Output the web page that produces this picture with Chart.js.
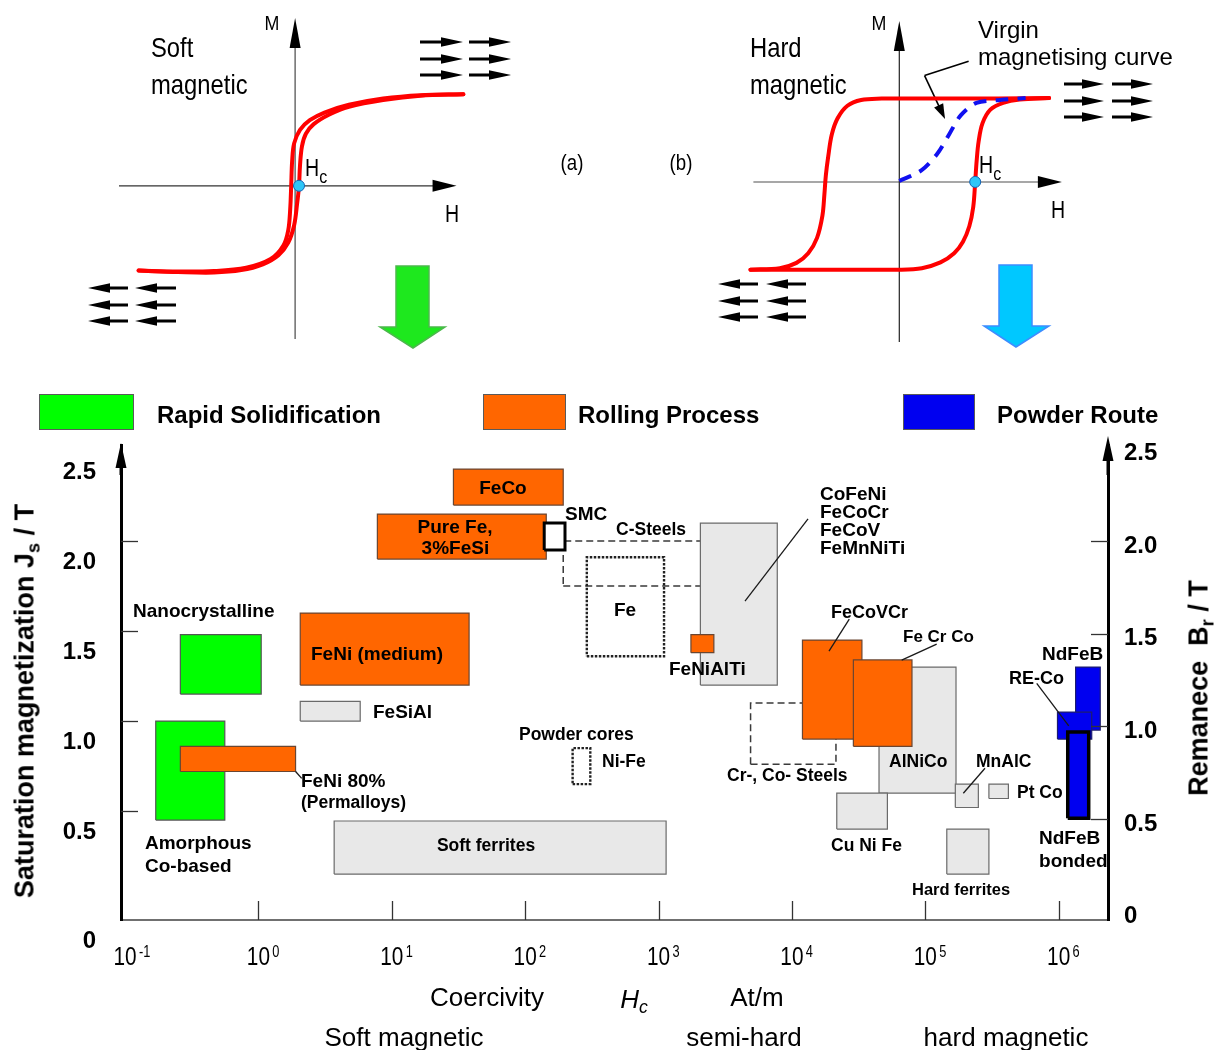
<!DOCTYPE html>
<html lang="en">
<head>
<meta charset="utf-8">
<title>Soft and hard magnetic materials</title>
<script src="https://cdn.jsdelivr.net/npm/chart.js@4/dist/chart.umd.min.js"></script>
<style>
  html, body { margin: 0; padding: 0; background: #fff; }
  #page { position: relative; width: 1227px; height: 1050px; overflow: hidden; background: #fff;
          font-family: "Liberation Sans", Arial, Helvetica, sans-serif; color: #000; }
  canvas, svg { position: absolute; }
  .t { position: absolute; white-space: nowrap; line-height: 1; }
  .l { transform: translateY(-50%); }
  .c { transform: translate(-50%, -50%); }
  /* condensed lettering for the loop sketches */
  .ln { transform: translateY(-50%) scaleX(0.85); transform-origin: 0 50%; }
  .cn { transform: translate(-50%, -50%) scaleX(0.85); }
  .b { font-weight: bold; }
  sub { font-size: 0.68em; vertical-align: -0.3em; line-height: 0; }
  sub.hc { font-size: 0.82em; vertical-align: -0.38em; }
  .key { position: absolute; top: 394px; height: 36px; border: 1px solid #5a5a5a; box-sizing: border-box; }
  .vt { position: absolute; white-space: nowrap; line-height: 1; font-weight: bold; font-size: 27px;
        transform: translate(-50%, -50%) rotate(-90deg); }
</style>
</head>
<body>
<div id="page">
  <canvas id="softLoop" width="600" height="360" style="left:0;top:0"></canvas>
  <canvas id="hardLoop" width="627" height="360" style="left:600px;top:0"></canvas>
  <canvas id="materials" width="1227" height="670" style="left:0;top:380px"></canvas>
  <svg id="decor" width="1227" height="380" style="left:0;top:0"></svg>

  <!-- soft magnetic loop annotations -->
  <div class="t cn" style="left:272px;top:22px;font-size:21px">M</div>
  <div class="t cn" style="left:452px;top:214px;font-size:23px">H</div>
  <div class="t ln" style="left:305px;top:168px;font-size:23px">H<sub class="hc">c</sub></div>
  <div class="t ln" style="left:151px;top:48px;font-size:28px">Soft</div>
  <div class="t ln" style="left:151px;top:85px;font-size:28px">magnetic</div>
  <div class="t cn" style="left:572px;top:163px;font-size:22px">(a)</div>
  <div class="t cn" style="left:681px;top:163px;font-size:22px">(b)</div>

  <!-- hard magnetic loop annotations -->
  <div class="t cn" style="left:879px;top:22px;font-size:21px">M</div>
  <div class="t cn" style="left:1058px;top:210px;font-size:23px">H</div>
  <div class="t ln" style="left:979px;top:165px;font-size:23px">H<sub class="hc">c</sub></div>
  <div class="t ln" style="left:750px;top:48px;font-size:28px">Hard</div>
  <div class="t ln" style="left:750px;top:85px;font-size:28px">magnetic</div>
  <div class="t l" style="left:978px;top:30px;font-size:24px">Virgin</div>
  <div class="t l" style="left:978px;top:57px;font-size:24px">magnetising curve</div>

  <!-- processing route key -->
  <div class="key" style="left:39px;width:95px;background:#00ff00"></div>
  <div class="t l b" style="left:157px;top:415px;font-size:24px">Rapid Solidification</div>
  <div class="key" style="left:483px;width:83px;background:#ff6600"></div>
  <div class="t l b" style="left:578px;top:415px;font-size:24px">Rolling Process</div>
  <div class="key" style="left:903px;width:72px;background:#0000f0"></div>
  <div class="t l b" style="left:997px;top:415px;font-size:24px">Powder Route</div>

  <!-- axis titles -->
  <div class="vt" style="left:25px;top:701px">Saturation magnetization J<sub>s</sub> / T</div>
  <div class="vt" style="left:1199px;top:688px">Remanece&nbsp; B<sub>r</sub> / T</div>

  <div class="t c" style="left:487px;top:997px;font-size:26px">Coercivity</div>
  <div class="t c" style="left:634px;top:999px;font-size:26px"><i>H<sub>c</sub></i></div>
  <div class="t c" style="left:757px;top:997px;font-size:26px">At/m</div>
  <div class="t c" style="left:404px;top:1037px;font-size:26px">Soft magnetic</div>
  <div class="t c" style="left:744px;top:1037px;font-size:26px">semi-hard</div>
  <div class="t c" style="left:1006px;top:1037px;font-size:26px">hard magnetic</div>
</div>

<script>
// ---------------- Material property ranges ----------------
// Coercivity Hc in A/m, saturation magnetization / remanence in T
const materials = ['Soft ferrites', 'FeSiAl', 'Amorphous Co-based', 'FeNi 80%', 'Nanocrystalline',
  'FeNi (medium)', 'Pure Fe, 3%FeSi', 'FeCo', 'C-Steels', 'Fe', 'SMC', 'CoFeNi group', 'FeNiAlTi',
  'Powder cores Ni-Fe', 'Cr-, Co- Steels', 'FeCoVCr', 'AlNiCo', 'Fe Cr Co', 'Cu Ni Fe', 'MnAlC',
  'Pt Co', 'Hard ferrites', 'NdFeB', 'RE-Co', 'NdFeB bonded'];
const hcLow  = [3.7, 2.06, 0.17, 0.26, 0.26, 2.06, 7.8, 29, 193, 290, 139, 2060, 1750,
  227, 4900, 12000, 45000, 28900, 21700, 168000, 300000, 145000, 1340000, 980000, 1170000];
const hcHigh = [1140, 5.8, 0.56, 1.9, 1.05, 38, 144, 193, 4280, 1100, 199, 7770, 2600,
  308, 21400, 33500, 170000, 79500, 52000, 250000, 420000, 300000, 2050000, 1770000, 1680000];
const jsLow  = [0.15, 1.0, 0.45, 0.72, 1.15, 1.2, 1.9, 2.2, 1.75, 1.36, 1.95, 1.2, 1.38,
  0.65, 0.76, 0.9, 0.6, 0.86, 0.4, 0.52, 0.57, 0.15, 0.95, 0.9, 0.46];
const jsHigh = [0.445, 1.11, 1.0, 0.86, 1.48, 1.6, 2.15, 2.4, 2.0, 1.91, 2.1, 2.1, 1.48,
  0.85, 1.1, 1.45, 1.3, 1.34, 0.6, 0.65, 0.65, 0.4, 1.3, 1.05, 0.94];
const route  = ['other', 'other', 'rapid', 'rolling', 'rapid', 'rolling', 'rolling', 'rolling',
  'outline', 'dotted', 'composite', 'other', 'rolling', 'dotted', 'outline', 'rolling', 'other',
  'rolling', 'other', 'other', 'other', 'other', 'powder', 'powder', 'bonded'];

// Axis ticks
const decadeExponents = [-1, 0, 1, 2, 3, 4, 5, 6];
const jsTickValues = [0.5, 1.0, 1.5, 2.0, 2.5];
const brTickValues = [0, 0.5, 1.0, 1.5, 2.0, 2.5];

// ---------------- Hysteresis loops (H, M in drawing units) ----------------
const softRising = [[-160,-88],[-120,-89.5],[-83,-90],[-55,-87.5],[-33,-81.5],[-17,-72],[-7,-59],[-1,-41],
  [2,-19],[4,0],[5,21],[7,41],[11,54],[19,64],[35,74],[55,82],[90,89],[128,93.5],[172,95]];
const softFalling = [[172,95],[128,94],[90,90.5],[55,84],[30,76],[15,68],[5,58],[-1,44],[-3,26],[-4,0],
  [-5,-24],[-7,-46],[-12,-62],[-25,-76],[-50,-85],[-83,-88.5],[-120,-89],[-160,-88]];
const softCoercive = [[4, 0]];

const hardFalling = [[153,87],[101,86.5],[51,86.5],[2,86.5],[-18,86.5],[-39,85],[-53,79],[-63,66],[-69,49],
  [-72.5,27],[-75,7],[-76.5,-13],[-78.5,-35],[-84,-58],[-93,-74],[-105,-84],[-122,-89.5],[-152,-91]];
const hardRising = [[-152,-91],[-99,-91],[2,-91],[23,-89.5],[42,-83.5],[56,-74],[65,-62],[71.5,-46],
  [75.5,-26],[77.5,0],[79,22],[81,42],[85,61],[93,75],[106,82],[123,85.5],[153,87]];
const virginCurve = [[0,1],[22.5,12],[38.6,29],[50.7,49],[62.7,69],[78.8,82],[103,85],[129,87]];
const hardCoercive = [[77.5, 0]];

// ---------------- helpers ----------------
const SANS = '"Liberation Sans", Arial, Helvetica, sans-serif';
const pts = arr => arr.map(([x, y]) => ({ x, y }));

function arrow(ctx, from, to, len, half, lineColor, headColor, lw) {
  const dx = to[0] - from[0], dy = to[1] - from[1];
  const d = Math.hypot(dx, dy), ux = dx / d, uy = dy / d;
  const bx = to[0] - ux * len, by = to[1] - uy * len;
  ctx.save();
  ctx.strokeStyle = lineColor; ctx.lineWidth = lw;
  ctx.beginPath(); ctx.moveTo(from[0], from[1]); ctx.lineTo(bx + ux, by + uy); ctx.stroke();
  ctx.fillStyle = headColor;
  ctx.beginPath();
  ctx.moveTo(to[0], to[1]);
  ctx.lineTo(bx - uy * half, by + ux * half);
  ctx.lineTo(bx + uy * half, by - ux * half);
  ctx.closePath(); ctx.fill();
  ctx.restore();
}

function loopChart(id, range, datasets, decor) {
  return new Chart(document.getElementById(id), {
    type: 'line',
    data: { datasets },
    options: {
      responsive: false, animation: false, devicePixelRatio: 1,
      layout: { padding: 0 },
      plugins: { legend: { display: false }, tooltip: { enabled: false } },
      scales: {
        x: { type: 'linear', min: range[0], max: range[1], display: false },
        y: { type: 'linear', min: range[2], max: range[3], display: false }
      }
    },
    plugins: [{ id: 'loopAxes', beforeDatasetsDraw: decor }]
  });
}

const loopLine = (data, color, extra) => Object.assign({
  data: pts(data), borderColor: color, borderWidth: 4, pointRadius: 0, tension: 0.35,
  fill: false, borderCapStyle: 'round', borderJoinStyle: 'round'
}, extra || {});
const coerciveDot = data => ({
  data: pts(data), showLine: false, pointRadius: 5.5, pointBackgroundColor: '#2ec6f7',
  pointBorderColor: '#1464b4', pointBorderWidth: 1
});

// ---------------- soft magnetic loop ----------------
loopChart('softLoop', [-295, 305, -174, 186], [
  coerciveDot(softCoercive),
  loopLine(softRising, '#ff0000'),
  loopLine(softFalling, '#ff0000')
], chart => {
  const { ctx, scales: { x, y } } = chart;
  const P = (h, m) => [x.getPixelForValue(h), y.getPixelForValue(m)];
  arrow(ctx, P(-180, 0), P(165, 0), 24, 6, '#333', '#000', 1.2);
  arrow(ctx, P(0, -159), P(0, 174), 30, 5.5, '#555', '#000', 1.3);
});

// ---------------- hard magnetic loop ----------------
loopChart('hardLoop', [-299, 328, -178, 182], [
  coerciveDot(hardCoercive),
  loopLine(virginCurve, '#1010f0', { borderDash: [13, 9], borderCapStyle: 'butt', tension: 0.3 }),
  loopLine(hardFalling, '#ff0000'),
  loopLine(hardRising, '#ff0000')
], chart => {
  const { ctx, scales: { x, y } } = chart;
  const P = (h, m) => [x.getPixelForValue(h), y.getPixelForValue(m)];
  arrow(ctx, P(-149, 0), P(166, 0), 24, 6, '#8a8a8a', '#000', 1.5);
  arrow(ctx, P(0, -166), P(0, 167), 30, 5.5, '#222', '#000', 1.2);
  // pointer from the "Virgin magnetising curve" caption
  const a = P(70.8, 125.3), b = P(25.8, 110.3), c = P(46.7, 65.3);
  ctx.save(); ctx.strokeStyle = '#000'; ctx.lineWidth = 1.6;
  ctx.beginPath(); ctx.moveTo(a[0], a[1]); ctx.lineTo(b[0], b[1]); ctx.stroke(); ctx.restore();
  arrow(ctx, b, c, 15, 5, '#000', '#000', 1.6);
});

// ---------------- domain arrows and big route arrows ----------------
(function drawDecor() {
  const svg = document.getElementById('decor');
  const NS = 'http://www.w3.org/2000/svg';
  const add = (tag, attrs) => {
    const el = document.createElementNS(NS, tag);
    for (const k in attrs) el.setAttribute(k, attrs[k]);
    svg.appendChild(el);
  };
  const groups = [
    { dir: 1, ys: [42, 59, 75], spans: [[420, 463], [469, 511]] },
    { dir: -1, ys: [288, 305, 321], spans: [[88, 128], [135, 176]] },
    { dir: 1, ys: [84, 101, 117], spans: [[1064, 1104], [1112, 1153]] },
    { dir: -1, ys: [284, 301, 317], spans: [[718, 758], [766, 806]] }
  ];
  for (const g of groups) for (const yy of g.ys) for (const [x1, x2] of g.spans) {
    const head = 22;
    if (g.dir > 0) {
      add('rect', { x: x1, y: yy - 1.5, width: x2 - x1 - head + 1, height: 3, fill: '#000' });
      add('polygon', { points: `${x2 - head},${yy - 4.8} ${x2},${yy} ${x2 - head},${yy + 4.8}`, fill: '#000' });
    } else {
      add('rect', { x: x1 + head - 1, y: yy - 1.5, width: x2 - x1 - head + 1, height: 3, fill: '#000' });
      add('polygon', { points: `${x1 + head},${yy - 4.8} ${x1},${yy} ${x1 + head},${yy + 4.8}`, fill: '#000' });
    }
  }
  add('polygon', { points: '396,266 429,266 429,327 445,327 413,348 380,327 396,327',
    fill: '#1ee81e', stroke: '#4cb84c', 'stroke-width': 1.5 });
  add('polygon', { points: '999,265 1032,265 1032,326 1049,326 1016,347 984,326 999,326',
    fill: '#00c8ff', stroke: '#3d8cff', 'stroke-width': 1.5 });
})();

// ---------------- material map ----------------
const routeStyle = {
  rapid:     { backgroundColor: '#00ff00', borderColor: '#555555', borderWidth: 1.2, fill: 'shape' },
  rolling:   { backgroundColor: '#ff6600', borderColor: '#6a4632', borderWidth: 1.2, fill: 'shape' },
  powder:    { backgroundColor: '#0000f0', borderColor: '#1c1c70', borderWidth: 1.2, fill: 'shape' },
  bonded:    { backgroundColor: '#0000f0', borderColor: '#000000', borderWidth: 3.5, fill: 'shape' },
  composite: { backgroundColor: '#ffffff', borderColor: '#000000', borderWidth: 3, fill: 'shape' },
  other:     { backgroundColor: '#e8e8e8', borderColor: '#6a6a6a', borderWidth: 1.2, fill: 'shape' },
  outline:   { backgroundColor: 'rgba(0,0,0,0)', borderColor: '#3a3a3a', borderWidth: 1.5, borderDash: [7, 4], fill: false },
  dotted:    { backgroundColor: 'rgba(0,0,0,0)', borderColor: '#222222', borderWidth: 2.4, borderDash: [2.5, 1.5], fill: false }
};

const boxDatasets = materials.map((name, i) => Object.assign({
  label: name,
  data: [
    { x: hcLow[i], y: jsLow[i] }, { x: hcHigh[i], y: jsLow[i] },
    { x: hcHigh[i], y: jsHigh[i] }, { x: hcLow[i], y: jsHigh[i] },
    { x: hcLow[i], y: jsLow[i] }
  ],
  pointRadius: 0, tension: 0, borderJoinStyle: 'miter', borderCapStyle: 'butt',
  order: 100 - i
}, routeStyle[route[i]]));

// pointer lines from captions to their ranges
const pointers = [
  [[4450, 1.667], [13210, 2.123]],
  [[26940, 1.567], [18980, 1.389]],
  [[121800, 1.428], [66560, 1.339]],
  [[684800, 1.21], [1190000, 0.973]],
  [[280400, 0.738], [192900, 0.599]],
  [[1.9, 0.72], [2.112, 0.682]]
];
const pointerDatasets = pointers.map(p => ({
  data: pts(p), borderColor: '#1a1a1a', borderWidth: 1.3, pointRadius: 0, fill: false, order: 0
}));

// captions: text, Hc anchor, J anchor, alignment, font size
const captions = [
  ['Nanocrystalline', 0.1148, 1.606, 'left', 19],
  ['FeNi (medium)', 7.75, 1.367, 'center', 19],
  ['FeSiAl', 7.23, 1.045, 'left', 19],
  ['FeNi 80%', 2.087, 0.662, 'left', 19],
  ['(Permalloys)', 2.087, 0.545, 'left', 17.5],
  ['Amorphous', 0.1412, 0.317, 'left', 19],
  ['Co-based', 0.1412, 0.189, 'left', 19],
  ['Soft ferrites', 50.9, 0.306, 'center', 17.5],
  ['Pure Fe,', 29.8, 2.073, 'center', 19],
  ['3%FeSi', 30, 1.956, 'center', 19],
  ['FeCo', 68.2, 2.289, 'center', 19],
  ['SMC', 199, 2.145, 'left', 19],
  ['C-Steels', 480, 2.062, 'left', 17.5],
  ['Fe', 560.8, 1.612, 'center', 19],
  ['FeNiAlTi', 1198, 1.284, 'left', 19],
  ['Powder cores', 89.9, 0.923, 'left', 17.5],
  ['Ni-Fe', 377, 0.773, 'left', 17.5],
  ['Cr-, Co- Steels', 3262, 0.695, 'left', 17.5],
  ['CoFeNi', 16250, 2.256, 'left', 19],
  ['FeCoCr', 16250, 2.156, 'left', 19],
  ['FeCoV', 16250, 2.056, 'left', 19],
  ['FeMnNiTi', 16250, 1.956, 'left', 19],
  ['FeCoVCr', 19650, 1.601, 'left', 18],
  ['Fe Cr Co', 68080, 1.467, 'left', 17],
  ['AlNiCo', 53460, 0.773, 'left', 17.5],
  ['MnAlC', 240200, 0.773, 'left', 17.5],
  ['Pt Co', 487200, 0.6006, 'left', 17.5],
  ['Cu Ni Fe', 19650, 0.306, 'left', 17.5],
  ['Hard ferrites', 79520, 0.0617, 'left', 16.5],
  ['NdFeB', 750500, 1.367, 'left', 19],
  ['RE-Co', 424400, 1.234, 'left', 18],
  ['NdFeB', 712600, 0.345, 'left', 19],
  ['bonded', 712600, 0.217, 'left', 19]
];

const mapDecor = {
  id: 'mapDecor',
  afterDraw(chart) {
    const { ctx, chartArea: a, scales: { x, y, y2 } } = chart;
    ctx.save();
    // inward tick marks
    ctx.strokeStyle = '#333'; ctx.lineWidth = 1.3;
    const seg = (x1, y1, x2, y2b) => { ctx.beginPath(); ctx.moveTo(x1, y1); ctx.lineTo(x2, y2b); ctx.stroke(); };
    decadeExponents.slice(1).forEach(e => {
      const px = Math.round(x.getPixelForValue(10 ** e)) + 0.5;
      seg(px, a.bottom, px, a.bottom - 19);
    });
    jsTickValues.slice(0, 4).forEach(v => { const py = Math.round(y.getPixelForValue(v)) + 0.5; seg(a.left, py, a.left + 17, py); });
    brTickValues.slice(1, 5).forEach(v => { const py = Math.round(y2.getPixelForValue(v)) + 0.5; seg(a.right, py, a.right - 17, py); });
    // arrow tips of the two vertical axes
    arrow(ctx, [a.left, a.top + 30], [a.left, a.top - 2], 25, 5.5, '#000', '#000', 3);
    arrow(ctx, [a.right, a.top + 30], [a.right, a.top - 9], 25, 5.5, '#000', '#000', 3);
    // decade labels 10^n in condensed lettering
    ctx.fillStyle = '#000';
    decadeExponents.forEach(e => {
      const px = x.getPixelForValue(10 ** e);
      ctx.save();
      ctx.translate(px, a.bottom + 38);
      ctx.scale(0.8, 1);
      ctx.font = '26px ' + SANS;
      ctx.textAlign = 'center'; ctx.textBaseline = 'middle';
      const w = ctx.measureText('10').width;
      ctx.fillText('10', 0, 0);
      ctx.font = '16px ' + SANS;
      ctx.textAlign = 'left';
      ctx.fillText(String(e), w / 2 + 3, -5);
      ctx.restore();
    });
    // captions
    captions.forEach(([text, hc, js, align, size]) => {
      ctx.font = `bold ${size}px ${SANS}`;
      ctx.textAlign = align; ctx.textBaseline = 'middle';
      ctx.fillText(text, x.getPixelForValue(hc), y.getPixelForValue(js));
    });
    ctx.restore();
  }
};

const tickFont = { family: SANS, size: 24, weight: 'bold' };
new Chart(document.getElementById('materials'), {
  type: 'line',
  data: { datasets: [...pointerDatasets, ...boxDatasets] },
  options: {
    responsive: false, animation: false, devicePixelRatio: 1,
    layout: { padding: { top: 65, left: 0, right: 0, bottom: 0 } },
    plugins: { legend: { display: false }, tooltip: { enabled: false } },
    scales: {
      x: {
        type: 'logarithmic', min: 10 ** -1.03, max: 10 ** 6.37,
        afterBuildTicks: s => { s.ticks = decadeExponents.map(e => ({ value: 10 ** e })); },
        ticks: { display: false },
        grid: { drawOnChartArea: false, drawTicks: false },
        border: { color: '#707070', width: 2 },
        afterFit: s => { s.height = 130; }
      },
      y: {
        type: 'linear', position: 'left', min: -0.105, max: 2.534,
        afterBuildTicks: s => { s.ticks = [-0.105, ...jsTickValues].map(v => ({ value: v })); },
        ticks: { autoSkip: false, font: tickFont, color: '#000', padding: 25, labelOffset: 21,
                 callback: v => (v < 0 ? '0' : v.toFixed(1)) },
        grid: { drawOnChartArea: false, drawTicks: false },
        border: { color: '#000', width: 3 },
        afterFit: s => { s.width = 121; }
      },
      y2: {
        type: 'linear', position: 'right', min: -0.045, max: 2.519,
        afterBuildTicks: s => { s.ticks = brTickValues.map(v => ({ value: v })); },
        ticks: { autoSkip: false, font: tickFont, color: '#000', padding: 16, labelOffset: 5,
                 callback: v => (v === 0 ? '0' : v.toFixed(1)) },
        grid: { drawOnChartArea: false, drawTicks: false },
        border: { color: '#000', width: 3 },
        afterFit: s => { s.width = 119; }
      }
    }
  },
  plugins: [mapDecor]
});
</script>
</body>
</html>
